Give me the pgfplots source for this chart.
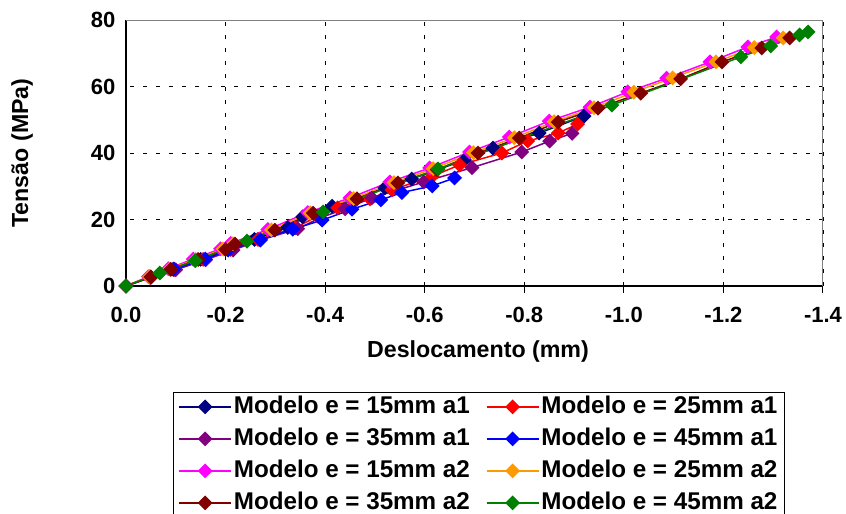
\documentclass[border=0pt]{standalone}
\usepackage{fontspec}
\setmainfont{Liberation Sans}
\usepackage{pgfplots}
\pgfplotsset{compat=1.18}
\definecolor{cNavy}{RGB}{0,0,128}
\definecolor{cRed}{RGB}{255,0,0}
\definecolor{cPurple}{RGB}{128,0,128}
\definecolor{cBlue}{RGB}{0,0,255}
\definecolor{cMagenta}{RGB}{255,0,255}
\definecolor{cOrange}{RGB}{255,153,0}
\definecolor{cBrown}{RGB}{128,0,0}
\definecolor{cGreen}{RGB}{0,128,0}
\begin{document}
\begin{tikzpicture}[x=1pt,y=1pt]
\path[use as bounding box] (-126,-228) rectangle (720,286);
\begin{axis}[
  at={(0,0)}, anchor=south west,
  scale only axis, width=697pt, height=266pt,
  xmin=-1.4, xmax=0, x dir=reverse, ymin=0, ymax=80,
  xtick={0,-0.2,-0.4,-0.6,-0.8,-1.0,-1.2,-1.4},
  ytick={0,20,40,60,80},
  clip=false,
  axis x line*=bottom, axis y line*=left,
  axis line style={black, line width=1.5pt},
  tick align=outside, major tick length=7pt,
  xtick style={black, line width=1pt},
  ytick style={draw=none},
  grid=major,
  major grid style={black, line width=0.8pt, dash pattern=on 4pt off 9pt},
  font=\bfseries,
  ticklabel style={font=\fontsize{22}{25}\selectfont\bfseries},
  xticklabel style={yshift=-11pt, /pgf/number format/.cd, fixed, fixed zerofill, precision=1, assume math mode=true},
  yticklabel style={/pgf/number format/.cd, fixed, assume math mode=true},
  xlabel={Deslocamento (mm)},
  ylabel={Tensão (MPa)},
  label style={font=\fontsize{23.2}{27}\selectfont\bfseries},
  xlabel style={at={(axis description cs:0.505,-0.248)}, anchor=center},
  ylabel style={at={(axis description cs:-0.149,0.5)}, anchor=center},
  legend columns=2,
  legend cell align=left,
  legend style={at={(axis description cs:0.0674,-0.3985)}, anchor=north west,
    draw=black, line width=0.8pt, font=\fontsize{24.2}{27}\selectfont\bfseries,
    inner xsep=5pt, inner ysep=3pt,
    nodes={inner ysep=0pt, inner xsep=2pt, text height=18pt, text depth=5pt},
    row sep=9pt,
    /tikz/every even column/.append style={column sep=14pt}},
  legend image code/.code={\draw[mark repeat=2,mark phase=2,#1] plot coordinates {(0pt,0pt) (26pt,0pt) (52pt,0pt)};},
  every axis plot/.append style={line width=1.5pt, mark=square*, mark size=4.5pt, mark options={rotate=45, solid}},
]
\addplot[color=cNavy] coordinates {(0,0) (-0.048,2.7) (-0.095,5.0) (-0.15,8.0) (-0.203,11.1) (-0.258,14.0) (-0.325,17.6) (-0.355,20.8) (-0.414,24.0) (-0.52,29.5) (-0.574,32.2) (-0.68,37.9) (-0.737,41.5) (-0.83,46.0) (-0.92,51.1)};
\addlegendentry{Modelo e = 15mm a1}
\addplot[color=cRed] coordinates {(0,0) (-0.05,2.6) (-0.097,5.0) (-0.155,8.0) (-0.21,11.0) (-0.265,14.0) (-0.34,17.5) (-0.385,21.0) (-0.425,23.5) (-0.49,26.2) (-0.534,28.9) (-0.615,33.0) (-0.67,36.4) (-0.755,40.0) (-0.807,43.6) (-0.868,46.0) (-0.907,48.7)};
\addlegendentry{Modelo e = 25mm a1}
\addplot[color=cPurple] coordinates {(0,0) (-0.05,2.6) (-0.1,4.9) (-0.16,7.9) (-0.215,10.8) (-0.27,13.8) (-0.345,17.2) (-0.39,20.5) (-0.44,23.2) (-0.494,26.5) (-0.598,31.3) (-0.695,35.6) (-0.795,40.3) (-0.851,43.6) (-0.896,45.9)};
\addlegendentry{Modelo e = 35mm a1}
\addplot[color=cBlue] coordinates {(0,0) (-0.048,2.7) (-0.096,5.1) (-0.159,8.1) (-0.205,10.8) (-0.27,13.9) (-0.335,17.1) (-0.394,19.8) (-0.454,23.1) (-0.512,25.9) (-0.554,28.1) (-0.615,30.1) (-0.66,32.5)};
\addlegendentry{Modelo e = 45mm a1}
\addplot[color=cMagenta] coordinates {(0,0) (-0.045,2.8) (-0.085,5.2) (-0.135,8.1) (-0.19,11.2) (-0.21,12.8) (-0.285,17.0) (-0.365,22.1) (-0.45,26.5) (-0.53,31.3) (-0.61,35.5) (-0.69,40.3) (-0.77,44.8) (-0.85,49.6) (-0.932,53.8) (-1.008,58.4) (-1.086,62.5) (-1.173,67.4) (-1.249,71.9) (-1.307,74.9)};
\addlegendentry{Modelo e = 15mm a2}
\addplot[color=cOrange] coordinates {(0,0) (-0.047,2.75) (-0.088,5.1) (-0.14,8.0) (-0.195,11.1) (-0.215,12.7) (-0.292,16.9) (-0.37,22.0) (-0.457,26.3) (-0.538,31.1) (-0.617,35.3) (-0.698,40.1) (-0.78,44.6) (-0.86,49.4) (-0.94,53.6) (-1.02,58.3) (-1.098,62.6) (-1.185,67.4) (-1.262,71.7) (-1.32,74.6)};
\addlegendentry{Modelo e = 25mm a2}
\addplot[color=cBrown] coordinates {(0,0) (-0.05,2.7) (-0.09,5.0) (-0.145,8.0) (-0.2,11.0) (-0.219,12.6) (-0.299,16.8) (-0.376,21.9) (-0.464,26.2) (-0.546,31.0) (-0.625,35.0) (-0.707,40.0) (-0.79,44.5) (-0.868,49.3) (-0.948,53.5) (-1.034,58.0) (-1.114,62.3) (-1.197,67.4) (-1.277,71.6) (-1.333,74.6)};
\addlegendentry{Modelo e = 35mm a2}
\addplot[color=cGreen] coordinates {(0,0) (-0.068,3.9) (-0.139,7.6) (-0.243,13.5) (-0.396,22.3) (-0.627,35.2) (-0.976,54.4) (-1.235,68.9) (-1.295,72.2) (-1.353,75.5) (-1.37,76.4)};
\addlegendentry{Modelo e = 45mm a2}
\draw[gray, line width=1pt] (axis description cs:0,1) -- (axis description cs:1,1) -- (axis description cs:1,0);
\end{axis}
\end{tikzpicture}
\end{document}
